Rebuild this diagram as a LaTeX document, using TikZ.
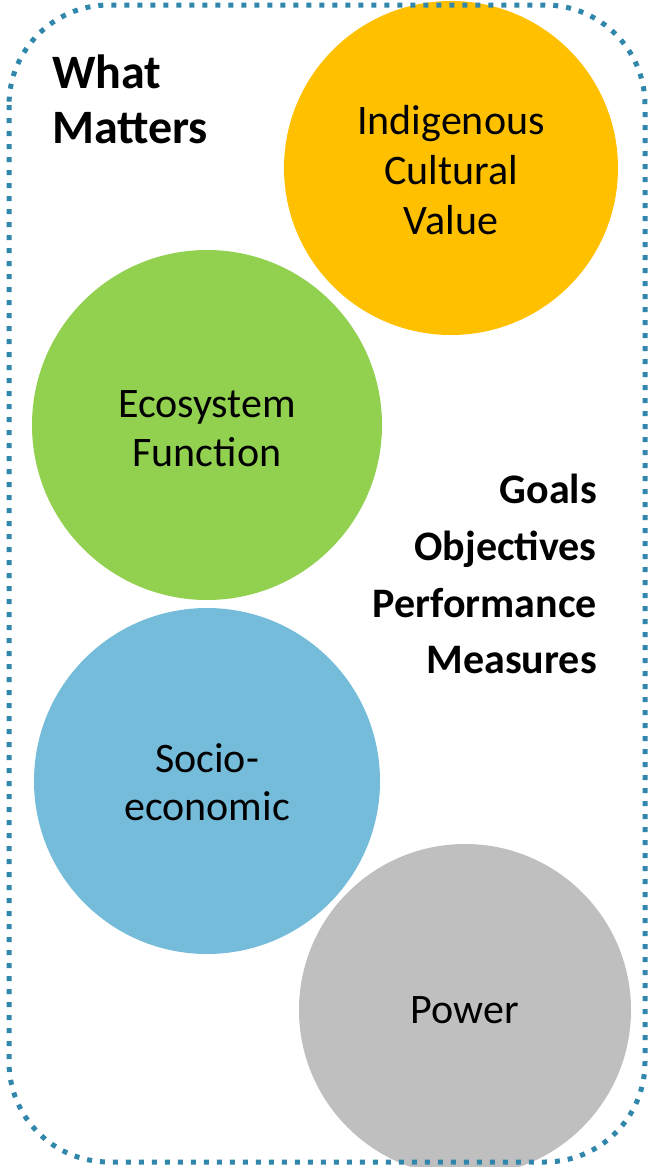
\documentclass[tikz,border=0pt]{standalone}
\usepackage{fontspec}
\setmainfont{Carlito}
\definecolor{frameblue}{HTML}{3187AB}
\definecolor{gold}{HTML}{FFC000}
\definecolor{leaf}{HTML}{92D050}
\definecolor{sky}{HTML}{75BCDB}
\definecolor{stone}{HTML}{BFBFBF}
\begin{document}
\begin{tikzpicture}[x=1pt,y=-1pt,
  topic/.style={circle,fill=#1,draw=none,inner sep=0pt,text=black,align=center,
    font=\fontsize{42}{50}\selectfont},
  heading/.style={text=black,inner sep=0pt,anchor=base west,font=\fontsize{48}{55}\bfseries\selectfont},
  goal/.style={text=black,inner sep=0pt,anchor=base east,font=\fontsize{42}{57}\bfseries\selectfont}]
\useasboundingbox (0,0) rectangle (654,1167);
% topic circles
\node[topic=gold,minimum size=334pt] (icv) at (451,168) {};
\node[align=center,font=\fontsize{42}{50}\selectfont,yshift=-2pt] (icvt) at (icv) {Indigenous\\Cultural\\Value};
\node[topic=leaf,minimum size=350pt] (eco) at (207,425) {};
\node[align=center,font=\fontsize{42}{49}\selectfont,yshift=-4pt] (ecot) at (eco) {Ecosystem\\Function};
\node[topic=sky,minimum size=346pt] (soc) at (207,781) {};
\node[align=center,font=\fontsize{42}{48}\selectfont,yshift=-1pt] (soct) at (soc) {Socio-\\economic};
\node[topic=stone,minimum size=332pt] (pow) at (465,1010) {Power};
% headings
\node[heading] (what) at (52,88) {What};
\node[heading] (matters) at (52,143) {Matters};
\node[goal] (goals) at (597,503) {Goals};
\node[goal] (obj) at (597,560) {Objectives};
\node[goal] (perf) at (597,617) {Performance};
\node[goal] (meas) at (597,673) {Measures};
% dotted frame
\draw[frameblue,line width=5pt,dash pattern=on 5pt off 8pt,rounded corners=100pt] (9,5) rectangle (645,1162);
\end{tikzpicture}
\end{document}
